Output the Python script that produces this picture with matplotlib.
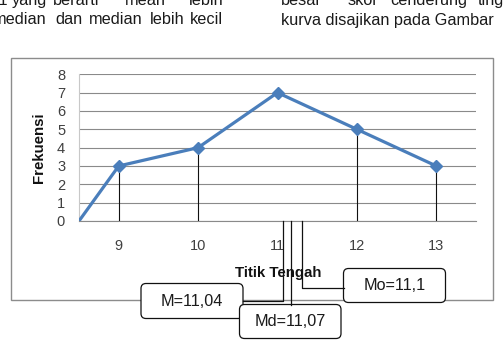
import matplotlib
matplotlib.use("Agg")
import matplotlib.pyplot as plt
from matplotlib.patches import Rectangle, FancyBboxPatch

plt.rcParams['font.family'] = ['Liberation Sans', 'DejaVu Sans']

# data
titik = [9, 10, 11, 12, 13]          # titik tengah kelas
frek = [3, 4, 7, 5, 3]               # frekuensi
titik_awal, frek_awal = 8.5, 0       # polygon starts on the axis
stat_nama = ['M', 'Md', 'Mo']
stat_nilai = ['11,04', '11,07', '11,1']

# surrounding document text (cut off by the screenshot)
baris1_kiri = [',1', 'yang', 'berarti', 'mean', 'lebih']
baris2_kiri = ['median', 'dan', 'median', 'lebih', 'kecil']
baris1_kanan = ['besar', 'skor', 'cenderung', 'ting']
baris2_kanan = 'kurva disajikan pada Gambar'

W, H = 504, 341
fig = plt.figure(figsize=(W/100, H/100), dpi=100)

# background layer in pixel coords
bg = fig.add_axes([0, 0, 1, 1])
bg.set_xlim(0, W)
bg.set_ylim(H, 0)
bg.axis('off')

teks = dict(fontsize=11.7, color='#1a1a1a', va='baseline')
# justified lines: words placed by hand, last word flush right
for w, xl in zip(baris1_kiri[:-1], [8, 12, 53, 125]):
    bg.text(xl, 5, w, ha='right' if w == ',1' else 'left', **teks)
bg.text(224, 5, baris1_kiri[-1], ha='right', **teks)
for w, xl in zip(baris2_kiri[:-1], [-7, 55, 89, 150]):
    bg.text(xl, 24.5, w, ha='left', **teks)
bg.text(223, 24.5, baris2_kiri[-1], ha='right', **teks)
for w, xl in zip(baris1_kanan, [281, 348, 390, 478]):
    bg.text(xl, 5, w, ha='left', **teks)
bg.text(281, 24.5, baris2_kanan, ha='left', **teks)

# chart frame
bg.add_patch(Rectangle((11, 57.5), 482, 242, fill=True, fc='white',
                       ec='#8c8c8c', lw=1.0))

# chart
ax = fig.add_axes([79/W, (H-221)/H, (476-79)/W, (221-74.3)/H])
ax.patch.set_alpha(0)
ax.plot([titik_awal] + titik, [frek_awal] + frek, color='#4a7ebb', lw=2.3,
        solid_capstyle='round', zorder=4)
ax.plot(titik, frek, 'D', color='#4a7ebb', ms=6.5, zorder=5)
drop = [(t, f) for t, f in zip(titik, frek) if f != max(frek)]
ax.vlines([d[0] for d in drop], 0, [d[1] for d in drop], color='#111111',
          lw=0.8, zorder=3)

ax.set_xlim(8.5, 13.5)
ax.set_ylim(0, 8)
ax.set_xticks(titik)
ax.set_yticks(range(0, 9))
ax.grid(axis='y', color='#8a8a8a', lw=0.8)
ax.set_axisbelow(True)
for s in ['top', 'right']:
    ax.spines[s].set_visible(False)
ax.spines['left'].set_color('#c8c8c8')
ax.spines['bottom'].set_color('#8a8a8a')
ax.tick_params(axis='x', length=0, pad=13, labelsize=10.5, labelcolor='#404040')
ax.tick_params(axis='y', length=0, pad=10, labelsize=10.5, labelcolor='#404040')

bg.text(39, 148, 'Frekuensi', rotation=90, ha='center', va='center',
        fontsize=10.8, fontweight='bold', color='#111111')
bg.text(278, 273.5, 'Titik Tengah', ha='center', va='center',
        fontsize=10.8, fontweight='bold', color='#111111')

# callouts on top
top = fig.add_axes([0, 0, 1, 1])
top.set_xlim(0, W)
top.set_ylim(H, 0)
top.axis('off')
top.patch.set_alpha(0)

kotak = [(141, 283.5, 102, 35), (239.5, 304.5, 101.5, 34), (343.5, 268.5, 102, 34)]
garis = [([283.3, 283.3, 242.7], [221, 300.5, 300.5]),
         ([290.7, 290.7], [221, 304.5]),
         ([301.7, 301.7, 343.5], [221, 287.5, 287.5])]
for nama, nilai, (x0, y0, w, h), (gx, gy) in zip(stat_nama, stat_nilai, kotak, garis):
    top.plot(gx, gy, color='#111111', lw=0.9)
    top.add_patch(FancyBboxPatch((x0 + 5, y0 + 5), w - 10, h - 10,
                                 boxstyle='round,pad=5', fc='white',
                                 ec='#111111', lw=0.9))
    top.text(x0 + w/2, y0 + h/2 + 0.5, nama + '=' + nilai, ha='center',
             va='center', fontsize=11.7, color='#1a1a1a')

fig.savefig('out.png', dpi=100)
